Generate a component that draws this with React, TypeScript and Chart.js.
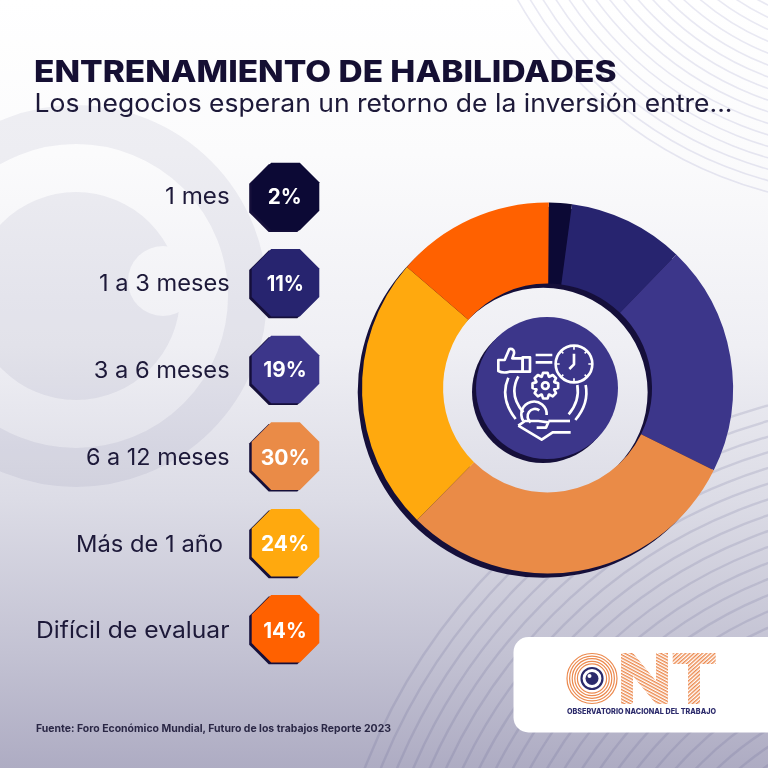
import React, { useEffect, useRef } from "react";
import { Chart, registerables } from "chart.js";

Chart.register(...registerables);

// Row labels and the percentages printed beside them
const categories = ["1 mes", "1 a 3 meses", "3 a 6 meses", "6 a 12 meses", "Más de 1 año", "Difícil de evaluar"];
const printedPercent = [2, 11, 19, 30, 24, 14];
const sliceShares = [2, 10.1, 20.1, 30.1, 23.9, 13.8];
const sliceColors = ["#0c0935", "#27246f", "#3c368a", "#ea8b47", "#ffa90e", "#ff6100"];

const TITLE = "ENTRENAMIENTO DE HABILIDADES";
const SUBTITLE = "Los negocios esperan un retorno de la inversión entre...";
const SOURCE = "Fuente: Foro Económico Mundial, Futuro de los trabajos Reporte 2023";
const LOGO_CAPTION = "OBSERVATORIO NACIONAL DEL TRABAJO";

// Layout of the left column (pixels), index-aligned with categories
const labelLeft = [165, 99, 93.7, 86, 76, 36];
const labelRight = [229.7, 229.7, 229.7, 229.7, 223, 229.5];
const labelBase = [204.3, 291, 377.7, 465, 551.7, 638];
const octCenter = [196.5, 282.8, 369.5, 456.1, 542.8, 628.8];
const pctLeft = [267.7, 266.7, 263.3, 260.7, 261, 263.3];
const pctRight = [301.7, 304, 306.7, 310, 309.3, 306.7];

const FONT = "Inter, 'Noto Sans', sans-serif";
const INK = "#1d1939";
const SHADOW = "#150f3a";

function octagon(cx: number, cy: number) {
  const h = 33.8;
  const c = 19.5;
  return [
    [cx - h + c, cy - h], [cx + h - c, cy - h], [cx + h, cy - h + c], [cx + h, cy + h - c],
    [cx + h - c, cy + h], [cx - h + c, cy + h], [cx - h, cy + h - c], [cx - h, cy - h + c],
  ].map((p) => p.join(",")).join(" ");
}

function gearPath(cx: number, cy: number, ro: number, ri: number, teeth: number) {
  const pts: string[] = [];
  for (let i = 0; i < teeth; i++) {
    const a = (i / teeth) * Math.PI * 2;
    const w = Math.PI / teeth;
    [[ri, -w * 0.95], [ro, -w * 0.45], [ro, w * 0.45], [ri, w * 0.95]].forEach(([r, d]) => {
      pts.push(`${(cx + r * Math.cos(a + d)).toFixed(1)} ${(cy + r * Math.sin(a + d)).toFixed(1)}`);
    });
  }
  return "M" + pts.join(" L") + " Z";
}

const range = (from: number, to: number, step: number) => {
  const out: number[] = [];
  for (let v = from; v >= to; v -= step) out.push(v);
  return out;
};

const ringShadowPlugin = {
  id: "ringShadow",
  beforeDatasetsDraw(chart: any) {
    const arc = chart.getDatasetMeta(0).data[0] as any;
    if (!arc) return;
    const { ctx } = chart;
    const dx = -4.3;
    const dy = 4.3;
    ctx.save();
    ctx.fillStyle = SHADOW;
    ctx.beginPath();
    ctx.arc(arc.x + dx, arc.y + dy, arc.outerRadius, 0, Math.PI * 2);
    ctx.arc(arc.x + dx, arc.y + dy, arc.innerRadius, 0, Math.PI * 2, true);
    ctx.fill("evenodd");
    ctx.restore();
  },
};

function Background() {
  return (
    <svg width={768} height={768} style={{ position: "absolute", left: 0, top: 0 }}>
      <defs>
        <linearGradient id="bg" x1="0" y1="0" x2="0" y2="1">
          <stop offset="0" stopColor="#ffffff" />
          <stop offset="0.2" stopColor="#fbfbfc" />
          <stop offset="0.45" stopColor="#efeff4" />
          <stop offset="0.65" stopColor="#dcdce6" />
          <stop offset="0.85" stopColor="#c3c2d3" />
          <stop offset="1" stopColor="#aeacc3" />
        </linearGradient>
        <mask id="notch">
          <rect width={768} height={768} fill="white" />
          <circle cx={163} cy={281} r={35} fill="black" />
        </mask>
      </defs>
      <rect width={768} height={768} fill="url(#bg)" />
      <circle cx={76} cy={296} r={171.5} fill="none" stroke="rgba(50,50,100,0.065)" strokeWidth={39} />
      <circle cx={76} cy={296} r={104} fill="rgba(50,50,100,0.065)" mask="url(#notch)" />
      {range(405, 210, 11).map((r) => (
        <circle key={r} cx={870} cy={-200} r={r} fill="none" stroke="rgba(110,110,175,0.15)" strokeWidth={1.6} />
      ))}
      {range(605, 230, 15).map((r) => (
        <circle key={r} cx={928} cy={989} r={r} fill="none" stroke="rgba(85,85,135,0.16)" strokeWidth={2.4} />
      ))}
    </svg>
  );
}

function Icon() {
  const s = { fill: "none", stroke: "#fff", strokeWidth: 8, strokeLinecap: "butt" as const, strokeLinejoin: "round" as const };
  return (
    <g transform="translate(470 315) scale(0.3333)" {...s}>
      <path d="M85 135 H104 L118 102 Q134 100 132 116 L127 130 H158 V170 H118 Q100 176 85 168 Z" />
      <rect x={158} y={127} width={22} height={43} />
      <path d="M197 120 H247 M197 142 H247" />
      <circle cx={312} cy={147} r={55} />
      <path d="M312 116 V148 L298 162" />
      <path d="M312 92 V104 M312 190 V202 M257 147 H269 M355 147 H367 M273 108 L280 115 M344 179 L351 186 M273 186 L280 179 M344 115 L351 108" strokeWidth={5} />
      <path d={gearPath(226, 212, 39, 29, 8)} />
      <circle cx={226} cy={212} r={10} />
      <path d="M115 188 Q88 250 137 312" />
      <path d="M145 184 Q115 240 160 292" />
      <path d="M347 210 Q358 265 316 315" />
      <path d="M322 210 Q330 258 296 298" />
      <path d="M160 318 A38 38 0 1 1 230 300" />
      <path d="M182 322 A20 20 0 0 1 208 286" />
      <path d="M145 332 L165 318 H205 L235 322 L228 338 H200" />
      <path d="M235 318 H300" />
      <path d="M145 332 L215 374 L248 352 H302" />
    </g>
  );
}

function Logo() {
  const orange = "#ec8a4f";
  return (
    <g>
      <defs>
        <pattern id="stripesA" width={2.8} height={2.8} patternUnits="userSpaceOnUse" patternTransform="rotate(28)">
          <rect width={2.8} height={1.4} fill={orange} />
        </pattern>
        <pattern id="stripesB" width={2.8} height={2.8} patternUnits="userSpaceOnUse" patternTransform="rotate(-42)">
          <rect width={2.8} height={1.4} fill={orange} />
        </pattern>
      </defs>
      <rect x={513.5} y={637} width={280} height={95.5} rx={15} fill="#fff" />
      {range(25, 13, 2.6).map((r) => (
        <circle key={r} cx={592} cy={678.5} r={r} fill="none" stroke={orange} strokeWidth={1.2} />
      ))}
      <circle cx={592} cy={678.5} r={10.5} fill="#fff" stroke="#2b2a6b" strokeWidth={2.2} />
      <circle cx={592} cy={678.5} r={6.5} fill="#2b2a6b" />
      <circle cx={589.5} cy={676} r={2} fill="#fff" />
      <path d="M621 653 H633 L656 681 V653 H668 V704 H656 L633 676 V704 H621 Z" fill="url(#stripesA)" />
      <path d="M672.7 653 H715.7 V664 H700 V704 H688 V664 H672.7 Z" fill="url(#stripesB)" />
      <text x={567} y={714} fontFamily={FONT} fontWeight={800} fontSize={7.6} fill="#2b2a6b" textLength={149} lengthAdjust="spacingAndGlyphs">
        {LOGO_CAPTION}
      </text>
    </g>
  );
}

function Foreground() {
  const fit = (left: number, right: number) => ({ x: left, textLength: right - left, lengthAdjust: "spacingAndGlyphs" });
  return (
    <svg width={768} height={768} style={{ position: "absolute", left: 0, top: 0 }}>
      <text {...fit(34, 616.5)} y={82} fontFamily={FONT} fontWeight={800} fontSize={30} fill="#150f33">{TITLE}</text>
      <text {...fit(34.5, 732.5)} y={112} fontFamily={FONT} fontWeight={400} fontSize={25} fill={INK}>{SUBTITLE}</text>
      {categories.map((c, i) => (
        <text key={c} {...fit(labelLeft[i], labelRight[i])} y={labelBase[i]} fontFamily={FONT} fontWeight={400} fontSize={23} fill={INK}>{c}</text>
      ))}
      {categories.map((c, i) => (
        <g key={c}>
          <polygon points={octagon(283, octCenter[i] + 1.6)} fill={SHADOW} />
          <polygon points={octagon(285.5, octCenter[i])} fill={sliceColors[i]} />
          <text {...fit(pctLeft[i], pctRight[i])} y={labelBase[i] - 0.3} fontFamily={FONT} fontWeight={700} fontSize={21} fill="#fff">{printedPercent[i]}%</text>
        </g>
      ))}
      <circle cx={543} cy={392} r={71} fill={SHADOW} />
      <circle cx={547} cy={388} r={71} fill="#3c368a" />
      <Icon />
      <Logo />
      <text {...fit(36, 391)} y={731.5} fontFamily={FONT} fontWeight={700} fontSize={10.5} fill="#2a2745">{SOURCE}</text>
    </svg>
  );
}

export default function App() {
  const ref = useRef<HTMLCanvasElement>(null);
  useEffect(() => {
    const chart = new Chart(ref.current!, {
      type: "doughnut",
      data: {
        labels: categories,
        datasets: [{ data: sliceShares, backgroundColor: sliceColors, borderWidth: 0, hoverOffset: 0 }],
      },
      options: {
        responsive: false,
        animation: false,
        cutout: "56.3%",
        rotation: 0.4,
        layout: { padding: { left: 362, right: 35, top: 202.5, bottom: 194.5 } },
        plugins: { legend: { display: false }, tooltip: { enabled: false } },
      },
      plugins: [ringShadowPlugin],
    } as any);
    return () => chart.destroy();
  }, []);
  return (
    <div style={{ position: "absolute", left: 0, top: 0, width: 768, height: 768, overflow: "hidden" }}>
      <Background />
      <canvas ref={ref} width={768} height={768} style={{ position: "absolute", left: 0, top: 0, display: "block" }} />
      <Foreground />
    </div>
  );
}
